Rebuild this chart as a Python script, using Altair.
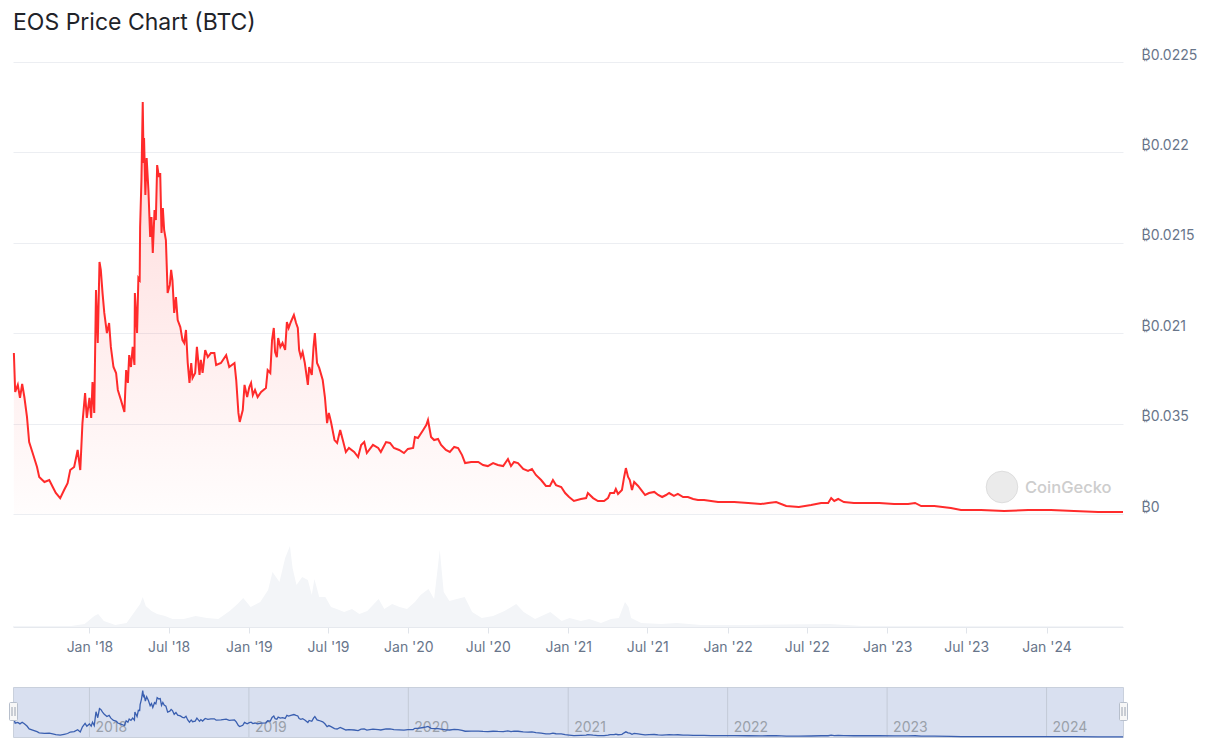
import altair as alt
import pandas as pd

# ---------------- data ----------------
START = "2017-07-10"          # first day shown (EOS/BTC listing)
END = "2024-06-24"            # last day shown
TITLE = "EOS Price Chart (BTC)"
WATERMARK = "CoinGecko"

# days since START, and EOS price in BTC
day_offsets = [
    2, 5, 11, 16, 21, 26, 32, 37, 45, 55, 60, 72, 83, 91, 98, 108, 117, 125, 131, 140,
    148, 154, 159, 165, 169, 175, 179, 182, 186, 190, 194, 198, 201, 205, 209, 215, 220, 224, 230, 236,
    240, 247, 255, 259, 263, 266, 270, 274, 278, 279, 284, 287, 290, 291, 294, 297, 299, 300, 303, 306,
    310, 314, 317, 320, 324, 327, 330, 334, 337, 340, 343, 346, 350, 354, 359, 362, 365, 369, 373, 377,
    383, 388, 392, 396, 400, 404, 408, 411, 417, 421, 427, 430, 434, 440, 446, 453, 461, 465, 476, 488,
    495, 507, 511, 516, 519, 526, 530, 536, 541, 545, 549, 554, 560, 568, 579, 583, 589, 593, 597, 600,
    604, 607, 612, 617, 623, 627, 631, 636, 643, 648, 652, 655, 659, 663, 668, 675, 678, 684, 688, 691,
    696, 701, 709, 714, 719, 723, 728, 736, 742, 749, 755, 762, 769, 781, 790, 797, 804, 810, 824, 836,
    842, 854, 863, 872, 884, 895, 904, 916, 920, 927, 939, 946, 950, 957, 964, 973, 980, 991, 1000, 1010,
    1019, 1028, 1035, 1049, 1065, 1076, 1087, 1099, 1110, 1122, 1133, 1140, 1147, 1156, 1168, 1179, 1188, 1197, 1209, 1220,
    1229, 1236, 1243, 1255, 1264, 1273, 1284, 1300, 1312, 1316, 1328, 1339, 1353, 1362, 1367, 1376, 1380, 1385, 1394, 1399,
    1403, 1408, 1412, 1417, 1422, 1431, 1438, 1447, 1456, 1468, 1477, 1486, 1495, 1502, 1513, 1522, 1534, 1545, 1557, 1568,
    1582, 1598, 1614, 1632, 1651, 1683, 1712, 1729, 1747, 1770, 1799, 1827, 1850, 1866, 1873, 1880, 1889, 1902, 1925, 1957,
    1983, 2017, 2049, 2065, 2079, 2109, 2147, 2170, 2216, 2269, 2324, 2376, 2429, 2484, 2541,
]
price_btc = [
    0.000890, 0.000675, 0.000714, 0.000642, 0.000719, 0.000647, 0.000537, 0.000398, 0.000337, 0.000260,
    0.000205, 0.000177, 0.000188, 0.000149, 0.000116, 0.000088, 0.000133, 0.000171, 0.000243, 0.000260,
    0.000354, 0.000243, 0.000503, 0.000669, 0.000531, 0.000642, 0.000531, 0.000730, 0.000559, 0.001239,
    0.000946, 0.001394, 0.001350, 0.001222, 0.001112, 0.001001, 0.001056, 0.000924, 0.000813, 0.000780,
    0.000686, 0.000631, 0.000564, 0.000796, 0.000725, 0.000879, 0.000813, 0.000924, 0.000824, 0.001222,
    0.001001, 0.001305, 0.001294, 0.001587, 0.001847, 0.002279, 0.001941, 0.002080, 0.001764, 0.001969,
    0.001792, 0.001532, 0.001643, 0.001444, 0.001681, 0.001626, 0.001930, 0.001864, 0.001886, 0.001554,
    0.001692, 0.001571, 0.001515, 0.001222, 0.001267, 0.001350, 0.001294, 0.001112, 0.001200, 0.001073,
    0.001034, 0.000962, 0.000946, 0.001018, 0.000835, 0.000725, 0.000835, 0.000752, 0.000780, 0.000924,
    0.000769, 0.000852, 0.000780, 0.000907, 0.000868, 0.000890, 0.000890, 0.000824, 0.000835, 0.000879,
    0.000813, 0.000835, 0.000741, 0.000559, 0.000509, 0.000575, 0.000714, 0.000647, 0.000702, 0.000725,
    0.000658, 0.000686, 0.000647, 0.000675, 0.000697, 0.000796, 0.000780, 0.000962, 0.001029, 0.000896,
    0.000868, 0.000973, 0.000924, 0.000946, 0.000907, 0.001062, 0.001029, 0.001062, 0.001101, 0.001056,
    0.001029, 0.000907, 0.000868, 0.000896, 0.000835, 0.000714, 0.000813, 0.000769, 0.000924, 0.001001,
    0.000835, 0.000808, 0.000741, 0.000647, 0.000503, 0.000559, 0.000509, 0.000409, 0.000393, 0.000465,
    0.000409, 0.000343, 0.000365, 0.000343, 0.000315, 0.000382, 0.000398, 0.000337, 0.000382, 0.000365,
    0.000343, 0.000398, 0.000393, 0.000365, 0.000354, 0.000337, 0.000360, 0.000365, 0.000426, 0.000420,
    0.000465, 0.000492, 0.000520, 0.000426, 0.000409, 0.000415, 0.000382, 0.000354, 0.000343, 0.000371,
    0.000365, 0.000326, 0.000282, 0.000288, 0.000288, 0.000271, 0.000265, 0.000282, 0.000271, 0.000265,
    0.000304, 0.000265, 0.000288, 0.000282, 0.000249, 0.000238, 0.000249, 0.000216, 0.000188, 0.000155,
    0.000155, 0.000188, 0.000160, 0.000149, 0.000116, 0.000094, 0.000072, 0.000083, 0.000088, 0.000116,
    0.000088, 0.000072, 0.000072, 0.000088, 0.000116, 0.000116, 0.000138, 0.000111, 0.000133, 0.000205,
    0.000254, 0.000205, 0.000188, 0.000133, 0.000177, 0.000155, 0.000133, 0.000105, 0.000116, 0.000122,
    0.000105, 0.000094, 0.000105, 0.000116, 0.000100, 0.000111, 0.000094, 0.000094, 0.000083, 0.000077,
    0.000077, 0.000072, 0.000066, 0.000066, 0.000066, 0.000061, 0.000055, 0.000061, 0.000066, 0.000044,
    0.000039, 0.000050, 0.000061, 0.000061, 0.000088, 0.000072, 0.000083, 0.000066, 0.000061, 0.000061,
    0.000061, 0.000055, 0.000055, 0.000061, 0.000044, 0.000044, 0.000033, 0.000022, 0.000022, 0.000017,
    0.000022, 0.000022, 0.000017, 0.000011, 0.000011,
]

# trading volume (relative units), days since START
vol_days = [
    0, 64, 133, 164, 186, 195, 208, 234, 260, 278, 291, 297, 304, 317, 330, 348, 365, 391, 418, 444,
    470, 496, 514, 527, 544, 566, 584, 594, 610, 623, 634, 640, 649, 662, 675, 684, 690, 701, 715, 728,
    741, 758, 776, 793, 811, 837, 850, 868, 885, 902, 920, 933, 951, 964, 977, 986, 999, 1016, 1034, 1051,
    1073, 1099, 1125, 1152, 1169, 1195, 1230, 1256, 1274, 1300, 1319, 1346, 1369, 1387, 1401, 1409, 1415, 1438, 1484, 1520,
    1575, 1669, 1870, 1944, 2221, 2541,
]
vol_values = [
    1, 1, 1, 3, 11, 13, 6, 2, 4, 15, 23, 30, 21, 16, 13, 11, 8, 8, 11, 9,
    8, 16, 23, 29, 20, 25, 37, 55, 45, 69, 81, 59, 42, 50, 47, 32, 48, 30, 30, 20,
    18, 15, 18, 13, 16, 28, 18, 23, 20, 18, 25, 32, 38, 28, 77, 35, 26, 28, 30, 15,
    9, 11, 16, 23, 15, 8, 15, 6, 9, 6, 8, 4, 8, 9, 25, 20, 9, 4, 3, 4,
    2, 2, 3, 1, 1, 1,
]

axis_dates = [
    "2018-01-01", "2018-07-01", "2019-01-01", "2019-07-01", "2020-01-01", "2020-07-01",
    "2021-01-01", "2021-07-01", "2022-01-01", "2022-07-01", "2023-01-01", "2023-07-01",
    "2024-01-01",
]
y_ticks = [0, 0.0005, 0.001, 0.0015, 0.002, 0.0025]
y_tick_labels = ["₿0", "₿0.035", "₿0.021", "₿0.0215", "₿0.022", "₿0.0225"]
nav_years = ["2018", "2019", "2020", "2021", "2022", "2023", "2024"]

# ---------------- helpers ----------------
DAY = 86400000


def ms(s):
    return int(pd.Timestamp(s, tz="UTC").value // 1_000_000)


t0 = ms(START)
t1 = ms(END)
price_df = pd.DataFrame({"t": [t0 + d * DAY for d in day_offsets], "price": price_btc})
vol_df = pd.DataFrame({"t": [t0 + d * DAY for d in vol_days], "vol": vol_values})
years_df = pd.DataFrame({"t": [ms(y + "-01-01") for y in nav_years], "label": nav_years})
ends_df = pd.DataFrame({"t": [t0, t1]})

FONT = "Inter, 'Noto Sans', 'DejaVu Sans', sans-serif"
LABEL_COLOR = "#68758a"
W = 1110
H_MAIN = 565
H_NAV = 50

xscale = alt.Scale(type="utc", domain=[t0, t1], nice=False)
xaxis = alt.Axis(
    values=[ms(d) for d in axis_dates],
    labelExpr="utcFormat(datum.value, \"%b '%y\")",
    grid=False, domain=True, domainColor="#e6e9ee", ticks=True, tickSize=6,
    tickColor="#e0e4ea", labelPadding=7, labelFontSize=14, labelColor=LABEL_COLOR,
    labelFont=FONT, title=None, labelFlush=False,
)
x_main = alt.X("t:T", scale=xscale, axis=xaxis)

# nested conditional label expression, smallest tick first
parts = []
for i, lab in enumerate(y_tick_labels[:-1]):
    parts.append(f"datum.value < {y_ticks[i] + 0.00025:.5f} ? '{lab}' : ")
label_expr = "".join(parts) + f"'{y_tick_labels[-1]}'"

yscale = alt.Scale(domain=[-0.000625, 0.0025], nice=False, zero=False)
yaxis = alt.Axis(
    orient="right", values=y_ticks, labelExpr=label_expr, grid=True, gridColor="#eceef2",
    domain=False, ticks=False, labelPadding=18, labelAlign="left", labelBaseline="bottom",
    labelFontSize=14, labelColor=LABEL_COLOR, labelFont=FONT, title=None,
)

base_price = alt.Chart(price_df)
price_area = base_price.mark_area(
    color=alt.Gradient(
        gradient="linear",
        stops=[
            alt.GradientStop(color="rgba(255,60,60,0.20)", offset=0),
            alt.GradientStop(color="rgba(255,60,60,0.01)", offset=1),
        ],
        x1=1, x2=1, y1=0, y2=1,
    )
).encode(x=x_main, y=alt.Y("price:Q", scale=yscale, axis=yaxis), y2=alt.datum(0))
price_line = base_price.mark_line(color="#ff2b2b", strokeWidth=2).encode(
    x=x_main, y=alt.Y("price:Q", scale=yscale, axis=yaxis)
)
price_layer = alt.layer(price_area, price_line)

volume = alt.Chart(vol_df).mark_area(color="#f3f5f8").encode(
    x=x_main,
    y=alt.Y("vol:Q", scale=alt.Scale(domain=[0, H_MAIN], nice=False), axis=None),
)

wm_df = pd.DataFrame({"label": [WATERMARK]})
wm_circle = alt.Chart(wm_df).mark_point(
    shape="circle", filled=True, size=1000, color="#ebebeb", stroke="#dedede", strokeWidth=1, opacity=1
).encode(x=alt.value(989), y=alt.value(425))
wm_text = alt.Chart(wm_df).mark_text(
    align="left", baseline="alphabetic", fontSize=16.5, font=FONT, color="#cdcdcd", fontWeight=500
).encode(x=alt.value(1012), y=alt.value(430.5), text="label:N")

main = alt.layer(volume, price_layer, wm_circle, wm_text).resolve_scale(y="independent").properties(
    width=W, height=H_MAIN
)

# ---------------- navigator ----------------
x_nav = alt.X("t:T", scale=xscale, axis=None)
nav_rules = alt.Chart(years_df).mark_rule(color="#c3cad7", strokeWidth=1).encode(
    x=x_nav, y=alt.value(0), y2=alt.value(H_NAV)
)
nav_labels = alt.Chart(years_df).mark_text(
    align="left", baseline="alphabetic", dx=6, fontSize=14, font=FONT, color="#9aa0aa"
).encode(x=x_nav, y=alt.value(44.5), text="label:N")
nav_line = alt.Chart(price_df).mark_line(color="#3a5fb0", strokeWidth=1.3).encode(
    x=x_nav, y=alt.Y("price:Q", scale=alt.Scale(domain=[0, 0.00245], nice=False, zero=True), axis=None)
)
handles = alt.Chart(ends_df).mark_rect(
    fill="#f7f7f7", stroke="#b7bfcc", strokeWidth=1, xOffset=-3.5, x2Offset=4.5, cornerRadius=1
).encode(x=x_nav, x2=alt.X2("t:T"), y=alt.value(15.5), y2=alt.value(33.5))
grip_a = alt.Chart(ends_df).mark_rule(color="#9aa2b0", strokeWidth=1, xOffset=-1).encode(
    x=x_nav, y=alt.value(20), y2=alt.value(29)
)
grip_b = alt.Chart(ends_df).mark_rule(color="#9aa2b0", strokeWidth=1, xOffset=2).encode(
    x=x_nav, y=alt.value(20), y2=alt.value(29)
)
nav = alt.layer(nav_rules, nav_labels, nav_line, handles, grip_a, grip_b).properties(
    width=W, height=H_NAV,
    view=alt.ViewBackground(fill="#d9e0f0", stroke="#c9d0dc", strokeWidth=1),
)

chart = alt.vconcat(main, nav, spacing=60, bounds="flush").properties(
    title=alt.Title(
        TITLE, anchor="start", frame="group", fontSize=23, fontWeight="normal",
        color="#1f2329", font=FONT, offset=13,
    ),
    padding={"left": 0, "top": 3, "right": 4, "bottom": 4},
    background="white",
).configure_view(stroke="transparent")

chart.save("out.html", embed_options={"renderer": "svg", "actions": False})
